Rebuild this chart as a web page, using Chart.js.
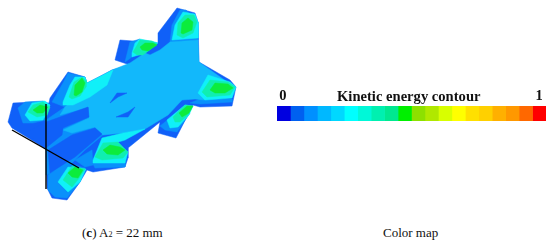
<!DOCTYPE html>
<html>
<head>
<meta charset="utf-8">
<script src="https://cdn.jsdelivr.net/npm/chart.js@4"></script>
<style>
    html, body { margin: 0; background: #fff; width: 550px; height: 241px; overflow: hidden; }
    canvas { position: absolute; }
    #contorno { left: 0; top: 0; filter: blur(0.3px); }
    #mapa { left: 270px; top: 75px; filter: blur(0.3px); }
    .texto { position: absolute; white-space: nowrap; font-family: "Liberation Serif", serif; color: #111; }
    #tituloMapa { left: 337px; top: 88px; font-size: 14.6px; font-weight: bold; }
    #legendaC { left: 82px; top: 225px; font-size: 13px; }
    #legendaMapa { left: 383px; top: 225px; font-size: 13px; }
</style>
</head>
<body>
<canvas id="contorno" width="250" height="205"></canvas>
<canvas id="mapa" width="280" height="50"></canvas>
<div class="texto" id="tituloMapa">Kinetic energy contour</div>
<div class="texto" id="legendaC">(<b>c</b>) A<span style="font-size:8px">2</span> = 22 mm</div>
<div class="texto" id="legendaMapa">Color map</div>
<script>
const corFundo = '#1060f8', corMedia = '#0a90fb', corCorpo = '#12b8fb', corCiano = '#10f0f8', corTeal = '#10eeb0', corVerde = '#0cec3c';

const silhueta = [[177,8],[195,13],[198,22],[199,62],[230,80],[236,87],[232,106],[200,107],[193,105],[176,138],[158,133],[160,122],[128,148],[128,158],[125,167],[93,172],[87,170],[80,182],[67,200],[52,198],[47,188],[46,149],[12,128],[8,122],[13,103],[33,102],[49,103],[50,98],[68,72],[85,77],[87,83],[112,70],[130,65],[115,60],[120,40],[133,41],[158,43],[158,33]];
const corpo = [[65,107],[90,83],[112,70],[130,63],[145,53],[150,55],[160,50],[170,42],[198,40],[199,62],[230,84],[205,100],[195,99],[182,100],[168,115],[145,129],[123,133],[103,135],[95,127],[72,133],[63,130],[89,118],[89,107],[60,115]];
const mediaOeste = [[46,120],[65,107],[90,95],[100,100],[103,135],[85,150],[70,165],[46,175]];

const bracosMedia = [
    [[170,42],[172,25],[180,10],[186,10],[198,22],[198,40]],
    [[125,62],[130,42],[140,39],[135,43],[132,57]],
    [[190,103],[200,99],[232,99],[232,102],[200,104]],
    [[160,126],[170,118],[190,113],[177,132],[165,130]],
    [[92,162],[125,162],[125,167],[95,168]],
    [[48,175],[68,163],[85,168],[80,182],[67,198],[55,197],[48,190]],
    [[18,108],[25,102],[43,101],[50,105],[46,120],[33,123],[23,123]],
    [[52,102],[63,83],[68,73],[85,77],[87,83],[65,107]],
    [[75,160],[92,150],[93,165],[85,167]]
];
const bracosCiano = [
    [[172,40],[175,25],[183,12],[195,14],[198,22],[198,38]],
    [[132,53],[135,43],[140,39],[155,42],[158,43],[145,53],[132,57]],
    [[198,93],[208,75],[230,82],[236,87],[232,98],[205,100]],
    [[167,120],[185,105],[193,106],[189,115],[178,127],[170,128]],
    [[93,160],[102,138],[123,133],[145,129],[125,140],[115,143],[128,152],[125,163],[105,163],[93,163]],
    [[58,182],[68,167],[86,169],[80,182],[68,192],[63,187]],
    [[25,115],[32,103],[45,101],[50,105],[47,113],[43,120],[30,121]],
    [[63,102],[70,85],[75,77],[85,77],[87,83],[113,70],[107,85],[90,97],[73,105],[63,105]]
];
const bracosTeal = [
    [[177,35],[178,23],[185,15],[194,15],[197,22],[193,33],[183,38]],
    [[133,52],[140,40],[152,41],[157,44],[143,55],[137,55]],
    [[202,92],[210,80],[228,82],[235,87],[230,95],[207,97]],
    [[173,117],[185,105],[192,106],[188,115],[180,122],[175,122]],
    [[95,157],[103,143],[118,142],[128,152],[123,158],[102,160]],
    [[63,180],[72,166],[85,169],[80,177],[72,187]],
    [[28,112],[33,105],[43,102],[50,107],[47,115],[37,117]],
    [[69,97],[74,82],[82,77],[86,81],[86,87],[80,96],[72,99]]
];
const verdes = [
    [[181,33],[182,23],[188,18],[193,22],[192,30],[183,34]],
    [[140,47],[145,43],[153,43],[157,45],[148,51],[142,50]],
    [[210,90],[215,83],[228,84],[233,88],[225,93],[215,93]],
    [[179,113],[187,106],[193,106],[189,113],[182,117]],
    [[103,150],[110,145],[120,147],[125,150],[118,155],[107,154]],
    [[68,173],[75,167],[83,170],[78,178],[72,177]],
    [[33,110],[40,105],[48,107],[43,113],[37,113]],
    [[74,95],[75,85],[82,78],[85,83],[82,92],[76,96]]
];
const cunhasEscuras = [
    [[25,133],[46,122],[88,107],[89,117],[63,128],[62,135],[46,148]],
    [[48,150],[72,135],[95,128],[102,134],[75,157],[50,173]],
    [[110,103],[117,93],[127,93],[118,97]],
    [[116,117],[128,117],[135,107],[128,112]]
];
const eixoVertical = [[46,104],[46,189]];
const eixoInclinado = [[12,130],[79,168]];

const valoresMapa = [0.05,0.05,0.05,0.05,0.05,0.05,0.05,0.05,0.05,0.05,0.05,0.05,0.05,0.05,0.05,0.05,0.05,0.05,0.05,0.05];
const coresMapa = ['#0000e0','#0060f0','#0090ff','#00b8ff','#00d8ff','#00ffff','#00f8d8','#00f0b0','#00e890','#00f000','#8de000','#b0e800','#d8ff00','#ffff00','#ffe000','#ffd000','#ffb000','#ff9800','#ff6800','#ff0000'];
// os rótulos 0 e 1 ficam um pouco para dentro da barra
const ticksMapa = [0.022, 0.974];

function poligono(pontos, cor) {
    return {
        data: pontos.concat([pontos[0]]).map((p) => ({ x: p[0], y: p[1] })),
        showLine: true,
        fill: 'shape',
        backgroundColor: cor,
        borderColor: cor,
        borderWidth: 0.5,
        pointRadius: 0,
        tension: 0
    };
}

function linha(pontos) {
    return {
        data: pontos.map((p) => ({ x: p[0], y: p[1] })),
        showLine: true,
        fill: false,
        borderColor: '#000',
        borderWidth: 1.4,
        pointRadius: 0
    };
}

// ordem de pintura: de baixo para cima
let camadas = [
    poligono(silhueta, corFundo),
    poligono(mediaOeste, corMedia),
    ...bracosMedia.map((p) => poligono(p, corMedia)),
    poligono(corpo, corCorpo),
    ...cunhasEscuras.map((p) => poligono(p, corFundo)),
    ...bracosCiano.map((p) => poligono(p, corCiano)),
    ...bracosTeal.map((p) => poligono(p, corTeal)),
    ...verdes.map((p) => poligono(p, corVerde)),
    linha(eixoVertical),
    linha(eixoInclinado)
];

new Chart(document.getElementById('contorno'), {
    type: 'scatter',
    data: { datasets: camadas.reverse() },
    options: {
        responsive: false,
        animation: false,
        layout: { padding: 0 },
        plugins: { legend: { display: false }, tooltip: { enabled: false } },
        scales: {
            x: { type: 'linear', min: 0, max: 250, display: false },
            y: { type: 'linear', min: 0, max: 205, reverse: true, display: false }
        }
    }
});

new Chart(document.getElementById('mapa'), {
    type: 'bar',
    data: {
        labels: [''],
        datasets: valoresMapa.map((v, i) => ({ data: [v], backgroundColor: coresMapa[i], barPercentage: 1, categoryPercentage: 1 }))
    },
    options: {
        indexAxis: 'y',
        responsive: false,
        animation: false,
        layout: { padding: { left: 7, right: 4, top: 0, bottom: 4 } },
        plugins: { legend: { display: false }, tooltip: { enabled: false } },
        scales: {
            x: {
                type: 'linear',
                position: 'top',
                stacked: true,
                min: 0,
                max: 1,
                afterBuildTicks: (eixo) => { eixo.ticks = ticksMapa.map((v) => ({ value: v })); },
                afterFit: (eixo) => { eixo.height = 31; },
                grid: { display: false, drawTicks: false },
                border: { display: false },
                ticks: {
                    maxRotation: 0,
                    padding: 1,
                    color: '#111',
                    font: { family: 'Liberation Serif', size: 14.5, weight: 'bold' },
                    callback: (v) => Math.round(v)
                }
            },
            y: { stacked: true, display: false }
        }
    }
});
</script>
</body>
</html>
